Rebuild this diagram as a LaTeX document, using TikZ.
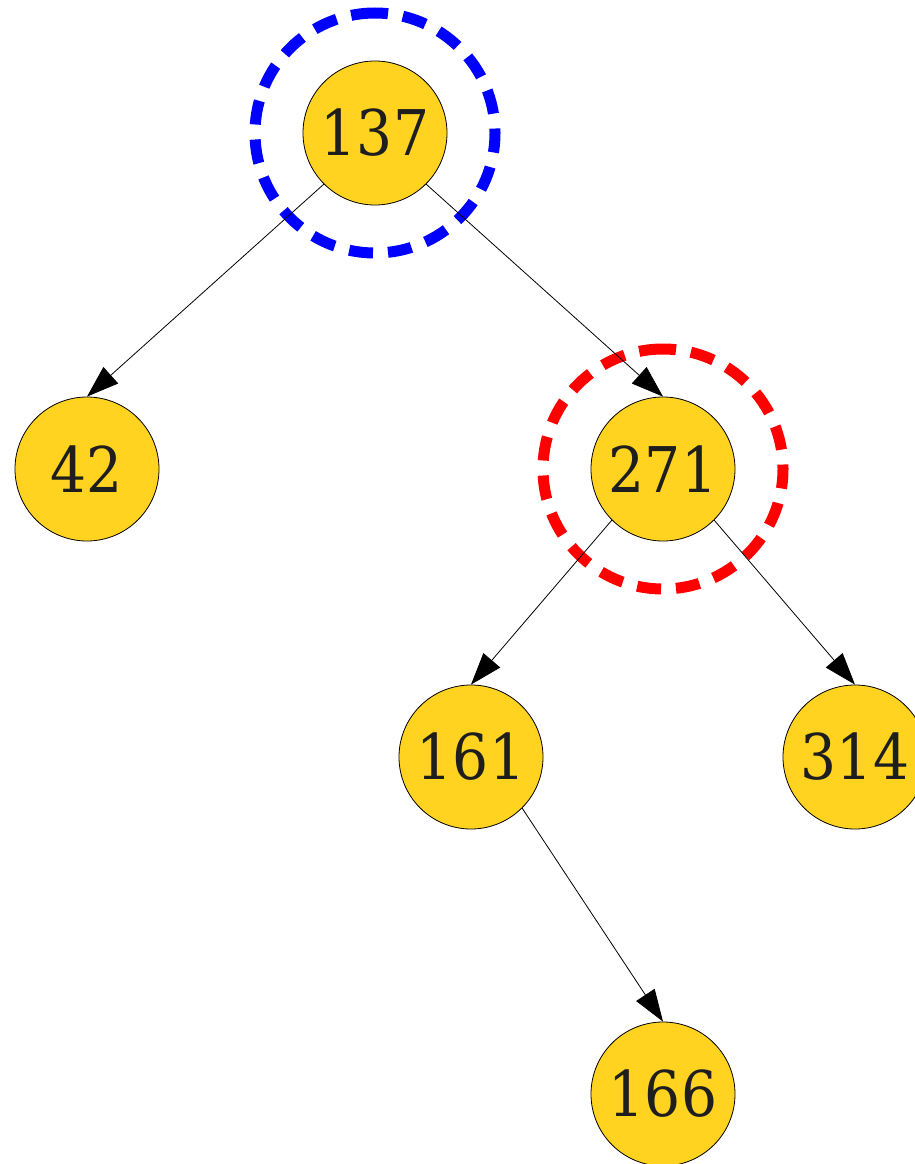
\documentclass[tikz,border=0pt]{standalone}
\usepackage{fontspec}
\setmainfont{DejaVu Serif}[FakeStretch=0.9]
\usepackage{tikz}
\usetikzlibrary{arrows.meta,backgrounds}
\usepackage{xcolor}
\definecolor{keyfill}{RGB}{255,211,32}
\definecolor{keytext}{RGB}{30,30,30}
\tikzset{
  key/.style={circle, draw=black, line width=0.8pt, fill=keyfill, minimum size=144pt, inner sep=0pt, text=keytext, font=\fontsize{63}{63}\selectfont},
  ring/.style={circle, draw=#1, line width=11pt, dash pattern=on 24pt off 15pt, minimum size=240pt, inner sep=0pt, rotate=90},
  link/.style={-{Triangle[length=32pt,width=22pt]}, line width=0.8pt}
}

\begin{document}
\begin{tikzpicture}[x=1pt, y=-1pt]
\useasboundingbox (0,0) rectangle (914,1164);
\node[key] (k137) at (375,133) {137};
\node[key] (k42) at (87,469) {42};
\node[key] (k271) at (663,469) {271};
\node[key] (k161) at (471,757) {161};
\node[key] (k314) at (855,757) {314};
\node[key] (k166) at (663,1094) {166};
% marked keys
\begin{scope}[on background layer]
\node[ring=blue] (mark137) at (k137) {};
\node[ring=red] (mark271) at (k271) {};
\end{scope}
\draw[link] (k137.south west) -- (k42.north);
\draw[link] (k137.south east) -- (k271.north);
\draw[link] (k271.south west) -- (k161.north);
\draw[link] (k271.south east) -- (k314.north);
\draw[link] (k161.south east) -- (k166.north);
\end{tikzpicture}
\end{document}
